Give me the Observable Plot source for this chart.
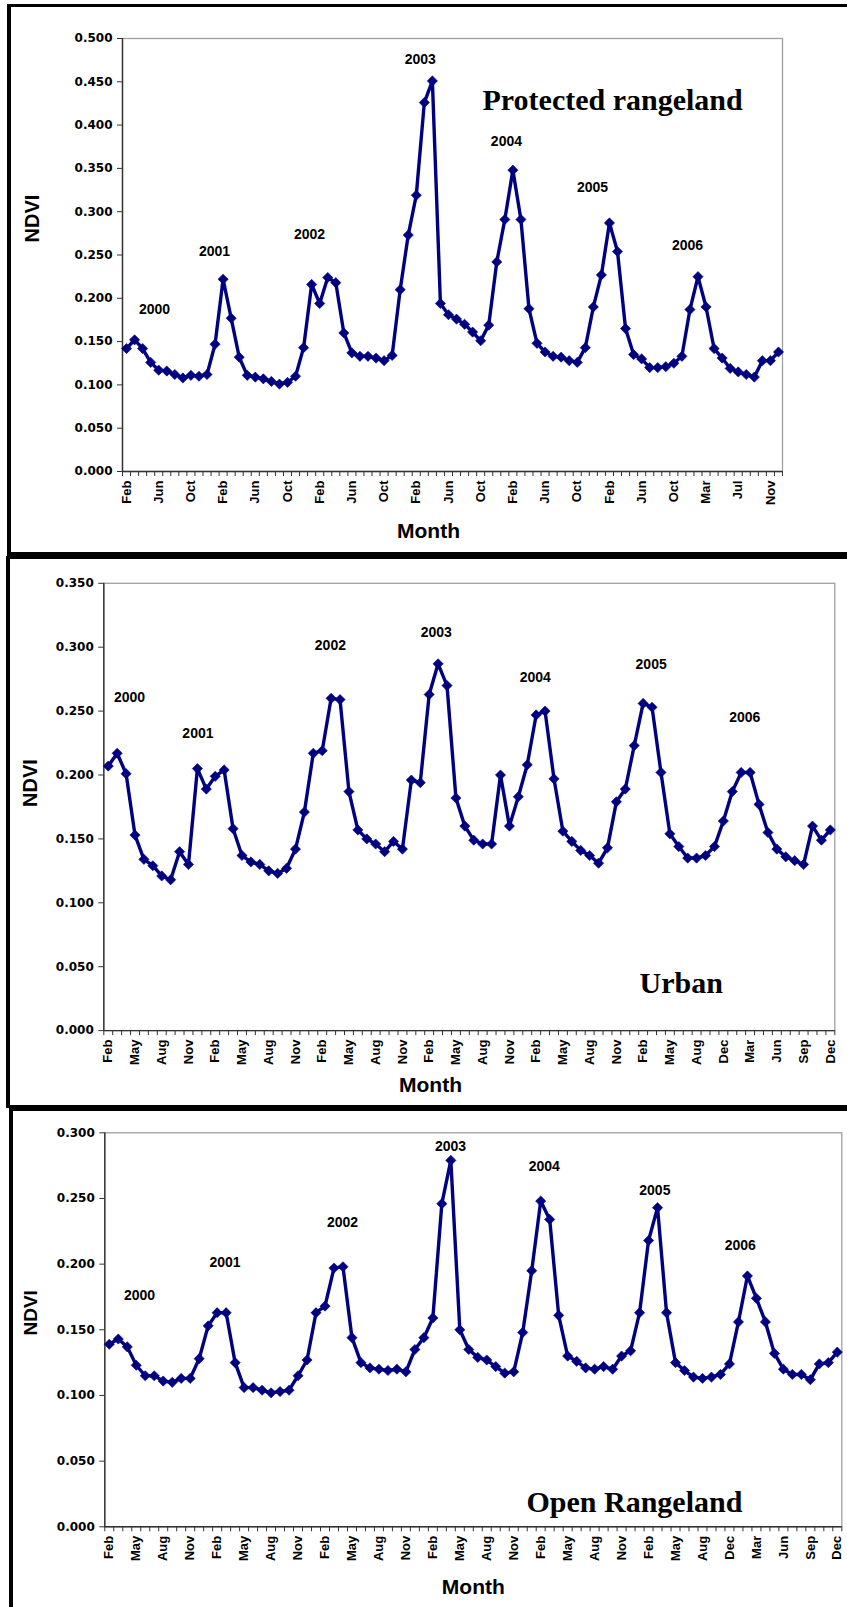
<!DOCTYPE html>
<html><head><meta charset="utf-8">
<script src="https://cdn.jsdelivr.net/npm/d3@7"></script>
<script src="https://cdn.jsdelivr.net/npm/@observablehq/plot@0.6"></script>
<style>
html,body{margin:0;padding:0;background:#fff;}
#page{position:relative;width:847px;height:1607px;overflow:hidden;background:#fff;}
.frame{position:absolute;border:0 solid #000;box-sizing:border-box;}
</style></head><body><div id="page">
<div class="frame" style="left:7px;top:4px;width:900px;height:552px;border-left-width:4px;border-top-width:3px;border-bottom-width:4px"></div>
<div class="frame" style="left:6px;top:556px;width:900px;height:552px;border-left-width:4px;border-top-width:3px;border-bottom-width:3px"></div>
<div class="frame" style="left:9px;top:1108px;width:900px;height:520px;border-left-width:4px;border-top-width:3px"></div>
</div>
<script>
// Category labels: Feb 2000 .. Dec 2006 (Nov 2005 absent)
const months = [
  "Feb","Mar","Apr","May","Jun","Jul","Aug","Sep","Oct","Nov","Dec",
  "Jan","Feb","Mar","Apr","May","Jun","Jul","Aug","Sep","Oct","Nov","Dec",
  "Jan","Feb","Mar","Apr","May","Jun","Jul","Aug","Sep","Oct","Nov","Dec",
  "Jan","Feb","Mar","Apr","May","Jun","Jul","Aug","Sep","Oct","Nov","Dec",
  "Jan","Feb","Mar","Apr","May","Jun","Jul","Aug","Sep","Oct","Nov","Dec",
  "Jan","Feb","Mar","Apr","May","Jun","Jul","Aug","Sep","Oct","Dec",
  "Jan","Feb","Mar","Apr","May","Jun","Jul","Aug","Sep","Oct","Nov","Dec"
];

const protectedNDVI = [
  0.142,0.152,0.142,0.126,0.117,0.116,0.112,0.108,0.111,0.110,
  0.112,0.147,0.222,0.177,0.132,0.111,0.109,0.107,0.104,0.101,
  0.103,0.110,0.143,0.216,0.194,0.224,0.218,0.160,0.137,0.133,
  0.133,0.131,0.128,0.134,0.210,0.273,0.319,0.426,0.451,0.194,
  0.181,0.176,0.170,0.161,0.151,0.169,0.242,0.291,0.348,0.291,
  0.188,0.148,0.138,0.133,0.132,0.128,0.126,0.143,0.190,0.227,
  0.287,0.254,0.165,0.135,0.130,0.120,0.120,0.121,0.125,0.133,
  0.187,0.225,0.190,0.142,0.131,0.119,0.115,0.112,0.109,0.128,
  0.128,0.138
];
const urbanNDVI = [
  0.207,0.217,0.201,0.153,0.134,0.129,0.121,0.118,0.140,0.130,
  0.205,0.189,0.199,0.204,0.158,0.137,0.132,0.130,0.125,0.123,
  0.127,0.142,0.171,0.217,0.219,0.260,0.259,0.187,0.157,0.150,
  0.146,0.140,0.148,0.142,0.196,0.194,0.263,0.287,0.270,0.182,
  0.160,0.149,0.146,0.146,0.200,0.160,0.183,0.208,0.247,0.250,
  0.197,0.156,0.148,0.141,0.137,0.131,0.143,0.179,0.189,0.223,
  0.256,0.253,0.202,0.154,0.144,0.135,0.135,0.137,0.144,0.164,
  0.187,0.202,0.202,0.177,0.155,0.142,0.136,0.133,0.130,0.160,
  0.149,0.157
];
const openNDVI = [
  0.139,0.143,0.137,0.123,0.115,0.115,0.111,0.110,0.113,0.113,
  0.128,0.153,0.163,0.163,0.125,0.106,0.106,0.104,0.102,0.103,
  0.104,0.115,0.127,0.163,0.168,0.197,0.198,0.144,0.125,0.121,
  0.120,0.119,0.120,0.118,0.135,0.144,0.159,0.246,0.279,0.150,
  0.135,0.129,0.127,0.122,0.117,0.118,0.148,0.195,0.248,0.234,
  0.161,0.130,0.126,0.121,0.120,0.122,0.120,0.130,0.134,0.163,
  0.218,0.243,0.163,0.125,0.119,0.114,0.113,0.114,0.116,0.124,
  0.156,0.191,0.174,0.156,0.132,0.120,0.116,0.116,0.112,0.124,
  0.125,0.133
];

const years = ["2000","2001","2002","2003","2004","2005","2006"];
// year annotation anchors (category index, NDVI level)
const protectedYearAt = [3.48, 10.93, 22.73, 36.5, 47.2, 57.9, 69.7];
const protectedYearLevel = [0.182, 0.249, 0.269, 0.470, 0.376, 0.323, 0.256];
const urbanYearAt = [2.38, 10.06, 24.92, 36.8, 47.9, 60.9, 71.4];
const urbanYearLevel = [0.2575, 0.2286, 0.298, 0.3076, 0.2724, 0.2826, 0.2411];
const openYearAt = [3.36, 12.87, 25.95, 37.96, 48.4, 60.7, 70.2];
const openYearLevel = [0.173, 0.198, 0.228, 0.2864, 0.271, 0.253, 0.211];

function makePanel(cfg) {
  const data = cfg.values.map((v, i) => ({i, v}));
  const ann = years.map((t, k) => ({t, i: cfg.yearAt[k], v: cfg.yearLevel[k]}));
  const idx = months.map((m, i) => i);
  const labelIdx = idx.filter(i => i % cfg.labelEvery === 0);
  const bounds = idx.map(i => i - 0.5).concat([months.length - 0.5]);
  const plot = Plot.plot({
    width: 847,
    height: cfg.height,
    marginTop: cfg.m[0], marginRight: cfg.m[1], marginBottom: cfg.m[2], marginLeft: cfg.m[3],
    style: {background: "transparent", fontFamily: "'Liberation Sans', Arial, sans-serif", fontWeight: "bold", color: "#000", overflow: "visible"},
    x: {type: "linear", domain: [-0.5, months.length - 0.5]},
    y: {domain: [0, cfg.yMax]},
    marks: [
      Plot.frame({stroke: "#a0a0a0", strokeWidth: 1.3}),
      Plot.axisY({ticks: d3.range(0, cfg.yMax + 1e-9, 0.05), tickFormat: d3.format(".3f"), tickSize: 5, tickPadding: 5,
        fontFamily: "'DejaVu Sans', sans-serif", fontSize: 12, fontWeight: "bold", fill: "#000", stroke: "#333", label: null}),
      Plot.axisX({ticks: bounds, tickSize: 5, tickFormat: () => "", stroke: "#333", label: null}),
      Plot.axisX({ticks: labelIdx, tickSize: 0, tickPadding: 9, tickRotate: -90, tickFormat: i => months[i],
        fontSize: 13, fontWeight: "bold", fill: "#000", label: null}),
      Plot.ruleX([-0.5], {stroke: "#333", strokeWidth: 1.4}),
      Plot.ruleY([0], {stroke: "#333", strokeWidth: 1.4}),
      Plot.line(data, {x: "i", y: "v", stroke: "#000080", strokeWidth: 3.4}),
      Plot.dot(data, {x: "i", y: "v", symbol: "diamond2", r: 4.6, fill: "#000080", stroke: "#000080", strokeWidth: 0.6}),
      Plot.text(ann, {x: "i", y: "v", text: "t", fontSize: 14, fontWeight: "bold", lineAnchor: "bottom", fill: "#000"}),
      Plot.text(["NDVI"], {text: d => d, frameAnchor: "left", dx: cfg.ndvi[0], dy: cfg.ndvi[1], rotate: -90,
        fontSize: cfg.ndviSize, fontWeight: "bold", fill: "#000"}),
      Plot.text(["Month"], {text: d => d, frameAnchor: "bottom", dx: cfg.month[0], dy: cfg.month[1], lineAnchor: "bottom",
        fontSize: 21, fontWeight: "bold", fill: "#000"}),
      Plot.text([cfg.title], {text: d => d, frameAnchor: "top-left", dx: cfg.titlePos[0], dy: cfg.titlePos[1],
        textAnchor: "start", lineAnchor: "bottom", fontFamily: "'Liberation Serif', 'Times New Roman', serif",
        fontSize: 30, fontWeight: "bold", fill: "#000"})
    ]
  });
  plot.style.position = "absolute";
  plot.style.top = cfg.top + "px";
  plot.style.left = "0px";
  plot.style.maxWidth = "none";
  document.getElementById("page").appendChild(plot);
}

makePanel({values: protectedNDVI, yMax: 0.5, labelEvery: 4, yearAt: protectedYearAt, yearLevel: protectedYearLevel,
  title: "Protected rangeland", top: 0, height: 556, m: [38, 65, 85, 122],
  ndvi: [-89.5, -12.5], ndviSize: 20, month: [-24, 66], titlePos: [360, 71]});
makePanel({values: urbanNDVI, yMax: 0.35, labelEvery: 3, yearAt: urbanYearAt, yearLevel: urbanYearLevel,
  title: "Urban", top: 556, height: 552, m: [26.8, 12.7, 77.9, 103.3],
  ndvi: [-73.3, 0], ndviSize: 20, month: [-38.8, 61], titlePos: [535.7, 409.2]});
makePanel({values: openNDVI, yMax: 0.3, labelEvery: 3, yearAt: openYearAt, yearLevel: openYearLevel,
  title: "Open Rangeland", top: 1108, height: 499, m: [24.3, 5.7, 80.7, 104.3],
  ndvi: [-74, 5.7], ndviSize: 19, month: [0, 66.7], titlePos: [421.7, 378.7]});
</script></body></html>
